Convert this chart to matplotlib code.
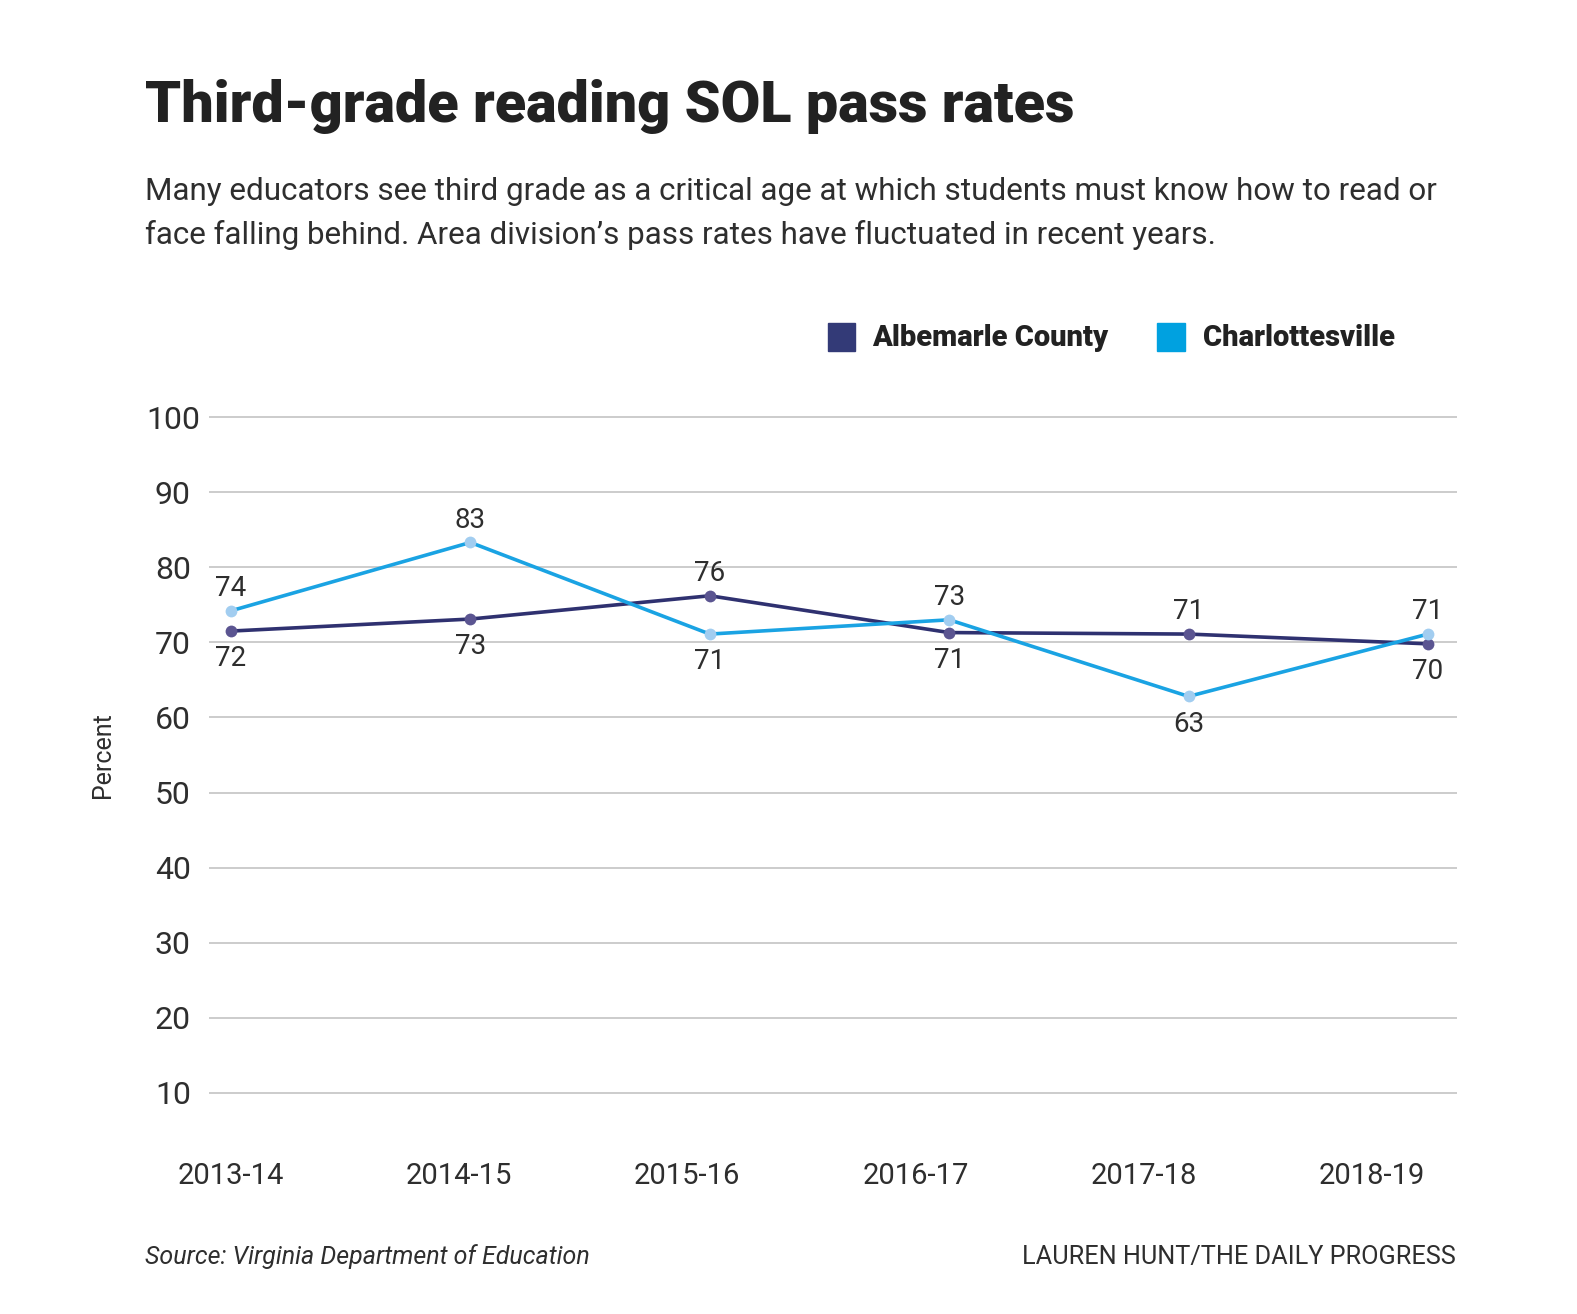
import numpy as np
import matplotlib
matplotlib.use("Agg")
import matplotlib.pyplot as plt
from matplotlib.patches import Rectangle

plt.rcParams['font.family'] = ['Roboto', 'DejaVu Sans']

years = ["2013-14", "2014-15", "2015-16", "2016-17", "2017-18", "2018-19"]
albemarle = [71.5, 73.1, 76.2, 71.3, 71.1, 69.8]
charlottesville = [74.2, 83.3, 71.1, 73.0, 62.8, 71.1]
albemarle_labels = ["72", "73", "76", "71", "71", "70"]
charlottesville_labels = ["74", "83", "71", "73", "63", "71"]
albemarle_side = [-1, -1, 1, -1, 1, -1]   # 1 = label above point
charlottesville_side = [1, 1, -1, 1, -1, 1]
yticks = [10, 20, 30, 40, 50, 60, 70, 80, 90, 100]

W, H = 1577, 1314
fig = plt.figure(figsize=(W / 100, H / 100), dpi=100)
renderer = fig.canvas.get_renderer()


def fit_width(t, target):
    # shrink/grow a text so it spans the same width as in the reference
    w = t.get_window_extent(renderer).width
    t.set_fontsize(t.get_fontsize() * target / w)
    return t.get_fontsize()


ppu = 676 / 90.0
top_px = 417 - 0.5 * ppu
bot_px = 1093 + 0.5 * ppu
ax = fig.add_axes([209 / W, 1 - bot_px / H, (1457 - 209) / W, (bot_px - top_px) / H])

x = np.arange(len(years))
ax.set_xlim((209 - 231) / 239.4, (1457 - 231) / 239.4)
ax.set_ylim(9.5, 100.5)

for v in yticks:
    ax.axhline(v, color="#c8c8c8", lw=1.3, zorder=1)

ax.plot(x, albemarle, color="#2f3170", lw=2.6, zorder=3)
ax.plot(x, albemarle, "o", color="#5b5591", ms=8.5, mec="none", zorder=4)
ax.plot(x, charlottesville, color="#1aa3e3", lw=2.6, zorder=3)
ax.plot(x, charlottesville, "o", color="#a2cdf0", ms=8.5, mec="none", zorder=4)

dark = "#2e2e2e"
for i in range(len(years)):
    for vals, labels, side in ((albemarle, albemarle_labels, albemarle_side),
                               (charlottesville, charlottesville_labels, charlottesville_side)):
        off = 16 if side[i] > 0 else -20
        ax.annotate(labels[i], (x[i], vals[i]), xytext=(0, off), textcoords="offset points",
                    ha="center", va="center", fontsize=20, color=dark, zorder=5)

ax.set_yticks(yticks)
ax.set_yticklabels([str(v) for v in yticks], fontsize=23, color=dark, ha="center")
ax.tick_params(axis="y", length=0, pad=26)
ax.set_xticks(x * 0.953)
ax.set_xticklabels(years, fontsize=21, color=dark)
ax.tick_params(axis="x", length=0, pad=47)
for s in ax.spines.values():
    s.set_visible(False)

fig.text(103 / W, 1 - 755 / H, "Percent", rotation=90, ha="center", va="center",
         fontsize=18, color=dark)

t = fig.text(145 / W, 1 - 107 / H, "Third-grade reading SOL pass rates", fontsize=40,
             fontweight="black", color="#222222", ha="left", va="center")
fit_width(t, 928)

t1 = fig.text(145 / W, 1 - 191 / H,
              "Many educators see third grade as a critical age at which students must know how to read or",
              fontsize=24, color=dark, ha="left", va="center")
fs = fit_width(t1, 1291)
fig.text(145 / W, 1 - 235 / H,
         "face falling behind. Area division\u2019s pass rates have fluctuated in recent years.",
         fontsize=fs, color=dark, ha="left", va="center")

# legend
fig.patches.append(Rectangle((828 / W, 1 - 351 / H), 27 / W, 28 / H, transform=fig.transFigure,
                             color="#333a77"))
t = fig.text(872 / W, 1 - 338 / H, "Albemarle County", fontsize=22, fontweight="black",
             color="#222222", ha="left", va="center")
fs = fit_width(t, 236)
fig.patches.append(Rectangle((1157 / W, 1 - 351 / H), 28 / W, 28 / H, transform=fig.transFigure,
                             color="#00a1e0"))
fig.text(1203 / W, 1 - 338 / H, "Charlottesville", fontsize=fs, fontweight="black",
         color="#222222", ha="left", va="center")

t = fig.text(145 / W, 1 - 1257 / H, "Source: Virginia Department of Education", fontsize=18,
             style="italic", color=dark, ha="left", va="center")
fit_width(t, 445)
t = fig.text(1456 / W, 1 - 1257 / H, "LAUREN HUNT/THE DAILY PROGRESS", fontsize=18,
             color=dark, ha="right", va="center")
fit_width(t, 433)

fig.savefig("out.png", dpi=100, facecolor="white")
